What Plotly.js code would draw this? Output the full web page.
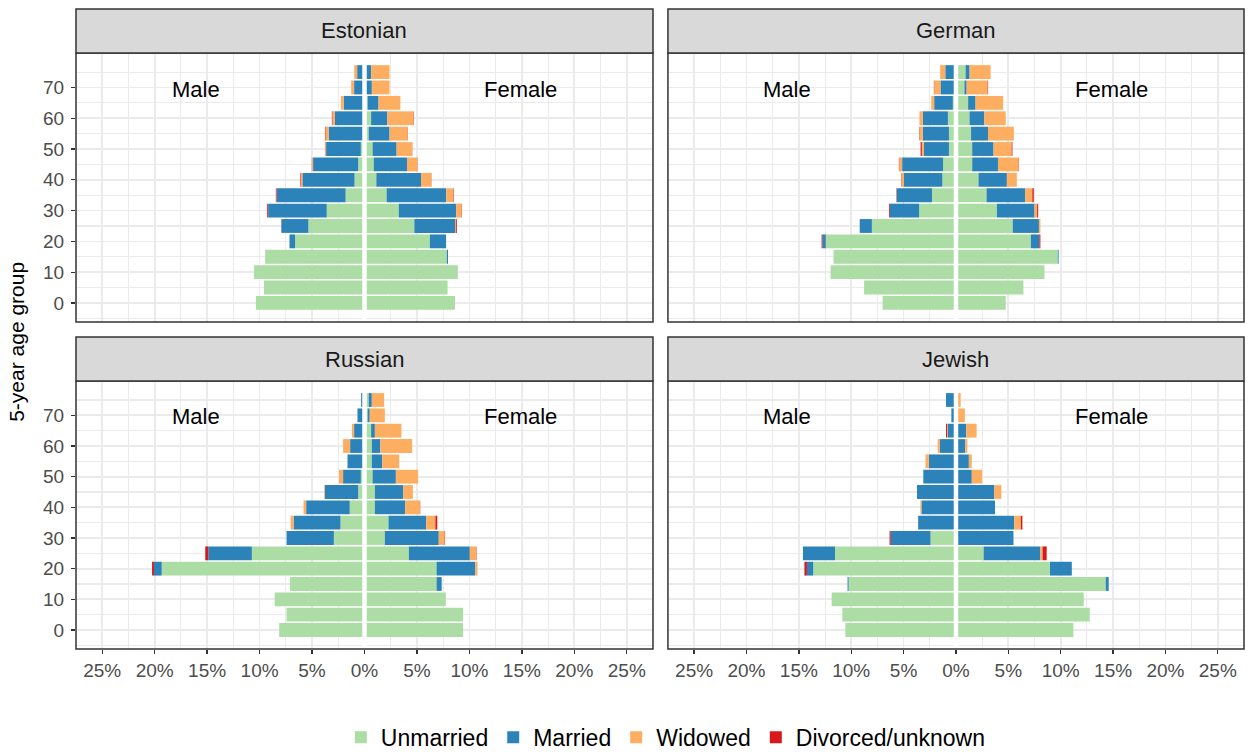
<!DOCTYPE html>
<html>
<head>
<meta charset="utf-8">
<script src="https://cdn.plot.ly/plotly-3.0.1.min.js"></script>
<style>
  html, body { margin: 0; padding: 0; background: #ffffff; }
  #chart { width: 1252px; height: 754px; }
</style>
</head>
<body>
<div id="chart"></div>
<script>
// 5-year age groups (lower bound of each group)
const ageGroups = [0, 5, 10, 15, 20, 25, 30, 35, 40, 45, 50, 55, 60, 65, 70, 75];

// Share of the population (%) by sex and marital status, one value per age group
const estonianMaleUnmarried  = [10.35, 9.58, 10.53, 9.47, 6.62, 5.35, 3.6, 1.8, 0.95, 0.6, 0.35, 0.1, 0.1, 0.1, 0.1, 0.1];
const estonianMaleMarried    = [0, 0, 0, 0, 0.53, 2.57, 5.59, 6.55, 4.97, 4.3, 3.31, 3.32, 2.72, 1.87, 0.89, 0.6];
const estonianMaleWidowed    = [0, 0, 0, 0, 0, 0, 0.03, 0.03, 0.17, 0.1, 0.09, 0.3, 0.24, 0.28, 0.28, 0.28];
const estonianMaleDivorced   = [0, 0, 0, 0, 0, 0.02, 0.08, 0.07, 0.05, 0.02, 0.02, 0.05, 0.05, 0, 0, 0];
const estonianFemaleUnmarried = [8.63, 7.92, 8.9, 7.85, 6.23, 4.75, 3.27, 2.11, 1.13, 0.88, 0.77, 0.4, 0.63, 0.3, 0.15, 0.15];
const estonianFemaleMarried   = [0, 0, 0, 0.11, 1.55, 3.88, 5.46, 5.67, 4.26, 3.17, 2.29, 1.99, 1.55, 1.04, 0.55, 0.48];
const estonianFemaleWidowed   = [0, 0, 0, 0, 0, 0.08, 0.53, 0.67, 0.98, 0.99, 1.48, 1.73, 2.47, 2.08, 1.69, 1.76];
const estonianFemaleDivorced  = [0, 0, 0, 0, 0, 0.09, 0.03, 0.05, 0.02, 0.02, 0.02, 0.02, 0.04, 0, 0, 0];

const germanMaleUnmarried  = [7.0, 8.77, 11.97, 11.69, 12.43, 8.03, 3.52, 2.29, 1.3, 1.23, 0.67, 0.67, 0.77, 0.3, 0.1, 0.1];
const germanMaleMarried    = [0, 0, 0, 0, 0.32, 1.16, 2.78, 3.38, 3.66, 3.91, 2.39, 2.5, 2.4, 1.78, 1.38, 0.92];
const germanMaleWidowed    = [0, 0, 0, 0, 0, 0, 0, 0.03, 0.25, 0.28, 0.2, 0.32, 0.32, 0.28, 0.6, 0.49];
const germanMaleDivorced   = [0, 0, 0, 0, 0.08, 0, 0.08, 0.02, 0.03, 0.03, 0.12, 0.03, 0, 0, 0.03, 0];
const germanFemaleUnmarried = [4.75, 6.44, 8.45, 9.72, 7.15, 5.42, 3.91, 2.92, 2.15, 1.55, 1.55, 1.44, 1.3, 1.16, 0.81, 0.92];
const germanFemaleMarried   = [0, 0, 0, 0.08, 0.81, 2.5, 3.59, 3.7, 2.71, 2.46, 2.04, 1.62, 1.41, 0.71, 0.21, 0.38];
const germanFemaleWidowed   = [0, 0, 0, 0, 0, 0.14, 0.25, 0.67, 0.95, 1.98, 1.73, 2.47, 2.04, 2.63, 2.01, 2.01];
const germanFemaleDivorced  = [0, 0, 0, 0, 0.1, 0, 0.1, 0.14, 0, 0.03, 0.07, 0, 0, 0, 0.04, 0];

const russianMaleUnmarried  = [8.13, 7.43, 8.56, 7.11, 19.33, 10.74, 2.92, 2.29, 1.41, 0.6, 0.35, 0.1, 0.1, 0.1, 0.1, 0.1];
const russianMaleMarried    = [0, 0, 0, 0, 0.74, 4.15, 4.51, 4.47, 4.15, 3.17, 1.69, 1.52, 1.27, 0.89, 0.57, 0.22];
const russianMaleWidowed    = [0, 0, 0, 0, 0, 0, 0, 0.28, 0.25, 0.07, 0.39, 0, 0.67, 0.21, 0, 0];
const russianMaleDivorced   = [0, 0, 0, 0, 0.18, 0.29, 0, 0, 0, 0, 0, 0, 0, 0, 0, 0];
const russianFemaleUnmarried = [9.4, 9.4, 7.75, 6.87, 6.87, 4.23, 1.94, 2.29, 0.99, 0.99, 0.77, 0.7, 0.7, 0.63, 0.3, 0.4];
const russianFemaleMarried   = [0, 0, 0, 0.49, 3.69, 5.81, 5.14, 3.59, 2.88, 2.71, 2.22, 0.99, 0.81, 0.36, 0.2, 0.3];
const russianFemaleWidowed   = [0, 0, 0, 0, 0.21, 0.59, 0.56, 0.88, 1.41, 0.91, 2.12, 1.62, 3.03, 2.53, 1.44, 1.17];
const russianFemaleDivorced  = [0, 0, 0, 0, 0, 0.04, 0.04, 0.18, 0.03, 0, 0, 0, 0, 0, 0, 0];

const jewishMaleUnmarried  = [10.56, 10.85, 11.87, 10.25, 13.63, 11.55, 2.43, 0, 0, 0, 0, 0, 0, 0, 0, 0.1];
const jewishMaleMarried    = [0, 0, 0, 0.1, 0.6, 3.06, 3.8, 3.61, 3.3, 3.72, 3.12, 2.59, 1.53, 0.8, 0.44, 0.85];
const jewishMaleWidowed    = [0, 0, 0, 0, 0, 0, 0, 0, 0.1, 0, 0, 0.32, 0.22, 0.05, 0, 0];
const jewishMaleDivorced   = [0, 0, 0, 0, 0.24, 0, 0.11, 0, 0, 0, 0, 0, 0, 0.1, 0, 0];
const jewishFemaleUnmarried = [11.21, 12.77, 12.2, 14.3, 8.98, 2.64, 0, 0, 0, 0, 0, 0, 0, 0, 0.05, 0.05];
const jewishFemaleMarried   = [0, 0, 0, 0.28, 2.08, 5.42, 5.49, 5.56, 3.73, 3.66, 1.51, 1.23, 0.88, 0.99, 0.05, 0.05];
const jewishFemaleWidowed   = [0, 0, 0, 0, 0, 0.21, 0, 0.64, 0, 0.67, 0.99, 0.28, 0.21, 0.98, 0.75, 0.35];
const jewishFemaleDivorced  = [0, 0, 0, 0, 0, 0.39, 0, 0.14, 0, 0, 0, 0, 0, 0, 0, 0];

const statusNames  = ['Unmarried', 'Married', 'Widowed', 'Divorced/unknown'];
const statusColors = ['#abdda4', '#2b83ba', '#fdae61', '#d7191c'];

const panelNames = ['Estonian', 'German', 'Russian', 'Jewish'];

const xTickVals  = [-25, -20, -15, -10, -5, 0, 5, 10, 15, 20, 25];
const xTickText  = ['25%', '20%', '15%', '10%', '5%', '0%', '5%', '10%', '15%', '20%', '25%'];
const yTickVals  = [0, 10, 20, 30, 40, 50, 60, 70];
const yTickText  = ['0', '10', '20', '30', '40', '50', '60', '70'];

const panels = [
  { axis: '',  male: [estonianMaleUnmarried, estonianMaleMarried, estonianMaleWidowed, estonianMaleDivorced],
               female: [estonianFemaleUnmarried, estonianFemaleMarried, estonianFemaleWidowed, estonianFemaleDivorced] },
  { axis: '2', male: [germanMaleUnmarried, germanMaleMarried, germanMaleWidowed, germanMaleDivorced],
               female: [germanFemaleUnmarried, germanFemaleMarried, germanFemaleWidowed, germanFemaleDivorced] },
  { axis: '3', male: [russianMaleUnmarried, russianMaleMarried, russianMaleWidowed, russianMaleDivorced],
               female: [russianFemaleUnmarried, russianFemaleMarried, russianFemaleWidowed, russianFemaleDivorced] },
  { axis: '4', male: [jewishMaleUnmarried, jewishMaleMarried, jewishMaleWidowed, jewishMaleDivorced],
               female: [jewishFemaleUnmarried, jewishFemaleMarried, jewishFemaleWidowed, jewishFemaleDivorced] }
];

// Plot-area geometry (paper fractions)
const colDomains = [[0, 0.494], [0.5068, 1]];
const rowDomains = [[0.5109, 0.93125], [0, 0.41875]];
const stripHeight = 0.06875;

const traces = [];
panels.forEach((p, pi) => {
  for (let s = 0; s < statusNames.length; s++) {
    // male bars point left (negative), female bars point right
    traces.push({
      type: 'bar', orientation: 'h',
      x: p.male[s].map(v => -v), y: ageGroups,
      xaxis: 'x' + p.axis, yaxis: 'y' + p.axis,
      name: statusNames[s], legendgroup: statusNames[s],
      showlegend: pi === 0,
      marker: { color: statusColors[s], line: { width: 0 } },
      hoverinfo: 'skip'
    });
    traces.push({
      type: 'bar', orientation: 'h',
      x: p.female[s], y: ageGroups,
      xaxis: 'x' + p.axis, yaxis: 'y' + p.axis,
      name: statusNames[s], legendgroup: statusNames[s],
      showlegend: false,
      marker: { color: statusColors[s], line: { width: 0 } },
      hoverinfo: 'skip'
    });
  }
});

const fontFamily = '"Liberation Sans", Arial, sans-serif';
const gridColor = '#ebebeb';

function xAxis(col, row, anchor) {
  return {
    domain: colDomains[col], anchor: anchor,
    range: [-27.5, 27.5], fixedrange: true,
    tickmode: 'array', tickvals: xTickVals, ticktext: xTickText,
    showticklabels: row === 1,
    ticks: row === 1 ? 'outside' : '', ticklen: 4, tickwidth: 1.3, tickcolor: '#333333',
    ticklabelstandoff: 0,
    tickfont: { family: fontFamily, size: 19, color: '#4d4d4d' },
    showgrid: true, gridcolor: gridColor, gridwidth: 1.7,
    minor: { tickmode: 'array', tickvals: [-22.5, -17.5, -12.5, -7.5, -2.5, 2.5, 7.5, 12.5, 17.5, 22.5],
             showgrid: true, gridcolor: gridColor, gridwidth: 1.1 },
    zeroline: false, showline: false
  };
}
function yAxis(col, row, anchor) {
  return {
    domain: rowDomains[row], anchor: anchor,
    range: [-6.2, 81.2], fixedrange: true,
    tickmode: 'array', tickvals: yTickVals, ticktext: yTickText,
    showticklabels: col === 0,
    ticks: col === 0 ? 'outside' : '', ticklen: 4, tickwidth: 1.3, tickcolor: '#333333',
    ticklabelstandoff: 3,
    tickfont: { family: fontFamily, size: 19, color: '#4d4d4d' },
    showgrid: true, gridcolor: gridColor, gridwidth: 1.7,
    minor: { tickmode: 'array', tickvals: [-5, 5, 15, 25, 35, 45, 55, 65, 75],
             showgrid: true, gridcolor: gridColor, gridwidth: 1.1 },
    zeroline: false, showline: false
  };
}

const layout = {
  width: 1252, height: 754,
  margin: { l: 76, r: 8, t: 9, b: 105, autoexpand: false },
  paper_bgcolor: '#ffffff', plot_bgcolor: '#ffffff',
  barmode: 'relative', bargap: 0.1,
  font: { family: fontFamily, color: '#000000' },
  showlegend: true,
  legend: {
    orientation: 'h', xref: 'paper', x: 0.505, xanchor: 'center',
    yref: 'container', y: 0.022, yanchor: 'middle',
    font: { family: fontFamily, size: 23, color: '#000000' },
    traceorder: 'normal', itemclick: false, itemdoubleclick: false
  },
  xaxis:  xAxis(0, 0, 'y'),  yaxis:  yAxis(0, 0, 'x'),
  xaxis2: xAxis(1, 0, 'y2'), yaxis2: yAxis(1, 0, 'x2'),
  xaxis3: xAxis(0, 1, 'y3'), yaxis3: yAxis(0, 1, 'x3'),
  xaxis4: xAxis(1, 1, 'y4'), yaxis4: yAxis(1, 1, 'x4'),
  shapes: [],
  annotations: []
};

panels.forEach((p, pi) => {
  const col = pi % 2, row = Math.floor(pi / 2);
  const xd = colDomains[col], yd = rowDomains[row];
  // white gap separating the two halves of the pyramid
  layout.shapes.push({
    type: 'line', xref: 'x' + p.axis, yref: 'y' + p.axis + ' domain',
    x0: 0, x1: 0, y0: 0, y1: 1, layer: 'above',
    line: { color: '#ffffff', width: 4.5 }
  });
  // panel border
  layout.shapes.push({
    type: 'rect', xref: 'paper', yref: 'paper',
    x0: xd[0], x1: xd[1], y0: yd[0], y1: yd[1], layer: 'above',
    line: { color: '#333333', width: 1.5 }, fillcolor: 'rgba(0,0,0,0)'
  });
  // facet strip
  layout.shapes.push({
    type: 'rect', xref: 'paper', yref: 'paper',
    x0: xd[0], x1: xd[1], y0: yd[1], y1: yd[1] + stripHeight, layer: 'above',
    line: { color: '#333333', width: 1.5 }, fillcolor: '#d9d9d9'
  });
  layout.annotations.push({
    xref: 'paper', yref: 'paper', x: (xd[0] + xd[1]) / 2, y: yd[1] + stripHeight / 2,
    text: panelNames[pi], showarrow: false, xanchor: 'center', yanchor: 'middle',
    font: { family: fontFamily, size: 22, color: '#1a1a1a' }
  });
  layout.annotations.push({
    xref: 'x' + p.axis, yref: 'y' + p.axis, x: -16.1, y: 69.5,
    text: 'Male', showarrow: false, xanchor: 'center', yanchor: 'middle',
    font: { family: fontFamily, size: 22, color: '#000000' }
  });
  layout.annotations.push({
    xref: 'x' + p.axis, yref: 'y' + p.axis, x: 14.85, y: 69.5,
    text: 'Female', showarrow: false, xanchor: 'center', yanchor: 'middle',
    font: { family: fontFamily, size: 22, color: '#000000' }
  });
});

// shared y-axis title
layout.annotations.push({
  xref: 'paper', yref: 'paper', x: -0.0505, y: 0.48,
  text: '5-year age group', textangle: -90, showarrow: false,
  xanchor: 'center', yanchor: 'middle',
  font: { family: fontFamily, size: 21, color: '#000000' }
});

Plotly.newPlot('chart', traces, layout, { displayModeBar: false, staticPlot: true });
</script>
</body>
</html>
